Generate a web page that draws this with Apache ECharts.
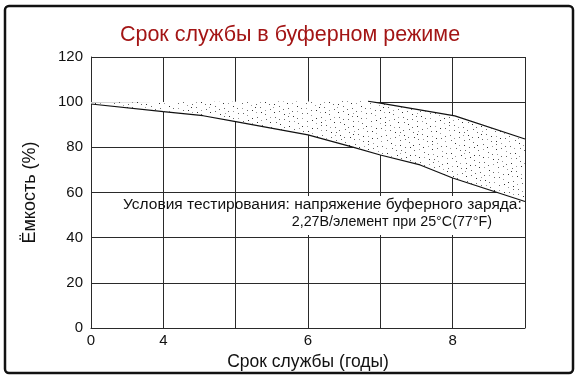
<!DOCTYPE html>
<html><head><meta charset="utf-8">
<script src="https://cdn.jsdelivr.net/npm/echarts@6/dist/echarts.min.js"></script>
<style>html,body{margin:0;padding:0;background:#fff}#c{width:580px;height:380px}</style>
</head><body><div id="c"></div>
<script>
// ---- data ----
const titleText = 'Срок службы в буферном режиме';
const xAxisName = 'Срок службы (годы)';
const yAxisName = 'Ёмкость (%)';
const xTickLabels = ['0', '4', '', '6', '', '8', ''];
const lowerX = [0, 1, 1.55, 2, 3, 3.62, 4, 4.55, 5, 6];
const lowerY = [99.2, 95.8, 94.0, 91.4, 85.5, 80.1, 76.6, 72.2, 66.4, 56.0];
const upperX = [3.83, 4.0, 5.03, 6.0];
const upperY = [100.4, 99.6, 93.9, 83.7];
const shadeCeiling = 100;
const noteLine1 = 'Условия тестирования: напряжение буферного заряда:';
const noteLine2 = '2,27В/элемент при 25°C(77°F)';

// ---- dotted texture (style only, low-discrepancy sequence) ----
const TW = 64, TH = 64, NDOTS = 160;
const tex = document.createElement('canvas');
tex.width = TW; tex.height = TH;
const tc = tex.getContext('2d');
tc.fillStyle = '#ffffff'; tc.fillRect(0, 0, TW, TH);
const g1 = 0.7548776662, g2 = 0.5698402910;
for (let i = 1; i <= NDOTS; i++) {
  const px = Math.floor(((0.5 + g1 * i) % 1) * TW);
  const py = Math.floor(((0.5 + g2 * i) % 1) * TH);
  tc.fillStyle = (i % 4 === 0) ? '#999' : (i % 3 === 0 ? '#333' : '#666');
  tc.fillRect(px, py, 1, 1);
}

const lowerData = lowerX.map(function (x, i) { return [x, lowerY[i]]; });
const upperData = upperX.map(function (x, i) { return [x, upperY[i]]; });

const chart = echarts.init(document.getElementById('c'), null, {renderer: 'canvas'});
const font = '"Liberation Sans", Arial, sans-serif';
chart.setOption({
  animation: false,
  title: {
    text: titleText, left: 'center', top: 19,
    textStyle: {color: '#a31515', fontSize: 21.5, fontWeight: 'normal', fontFamily: font}
  },
  grid: {left: 91, right: 55, top: 57, bottom: 52, containLabel: false},
  xAxis: {
    type: 'value', min: 0, max: 6, interval: 1,
    name: xAxisName, nameLocation: 'middle', nameGap: 20,
    nameTextStyle: {color: '#111', fontSize: 17.5, fontFamily: font},
    axisLine: {show: true, lineStyle: {color: '#2a2a2a', width: 1}},
    axisTick: {show: false},
    axisLabel: {color: '#111', fontSize: 15, fontFamily: font, margin: 5,
      formatter: function (v) { return xTickLabels[Math.round(v)] || ''; }},
    splitLine: {show: true, lineStyle: {color: '#2a2a2a', width: 1}}
  },
  yAxis: {
    type: 'value', min: 0, max: 120, interval: 20,
    name: yAxisName, nameLocation: 'middle', nameGap: 52, nameRotate: 90,
    nameTextStyle: {color: '#111', fontSize: 18, fontFamily: font},
    axisLine: {show: true, lineStyle: {color: '#2a2a2a', width: 1}},
    axisTick: {show: false},
    axisLabel: {color: '#111', fontSize: 15, fontFamily: font, margin: 8},
    splitLine: {show: true, lineStyle: {color: '#2a2a2a', width: 1}}
  },
  graphic: [
    {type: 'rect', z: 100, silent: true,
     shape: {x: 5, y: 6, width: 568, height: 367, r: 4},
     style: {fill: null, stroke: '#111', lineWidth: 2.5}},
    {type: 'rect', z: 1, silent: true,
     shape: {x: 290, y: 196, width: 231, height: 39},
     style: {fill: '#fff'}},
    {type: 'text', z: 5, left: 123, top: 197,
     style: {text: noteLine1, fill: '#111', font: '15.5px ' + font}},
    {type: 'text', z: 5, right: 88, top: 215,
     style: {text: noteLine2, fill: '#111', font: '14.3px ' + font}}
  ],
  series: [
    {
      type: 'custom', z: 2, silent: true,
      data: [[0, 0]],
      renderItem: function (params, api) {
        const pts = [];
        lowerData.forEach(function (p) { pts.push(api.coord(p)); });
        for (let i = upperData.length - 1; i >= 0; i--) pts.push(api.coord(upperData[i]));
        pts.push(api.coord([0, shadeCeiling]));
        return {type: 'polygon', shape: {points: pts},
          style: {fill: {image: tex, repeat: 'repeat'}, stroke: null}};
      }
    },
    {
      type: 'line', z: 3, data: lowerData, showSymbol: false, symbol: 'none',
      lineStyle: {color: '#111', width: 1.2}
    },
    {
      type: 'line', z: 3, data: upperData, showSymbol: false, symbol: 'none',
      lineStyle: {color: '#111', width: 1.2}
    }
  ]
});
</script></body></html>
